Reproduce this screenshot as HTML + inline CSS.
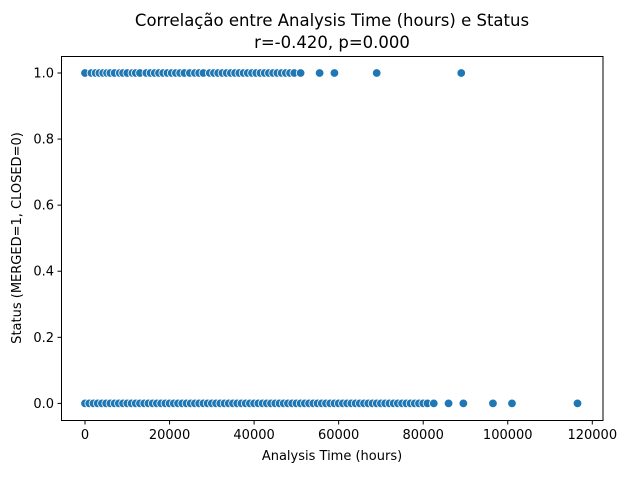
<!DOCTYPE html>
<html><head><meta charset="utf-8"><style>
body{margin:0;background:#fff}
svg text{font-family:"DejaVu Sans","Liberation Sans",sans-serif;fill:#000}
</style></head><body>
<svg id="c" width="630" height="475" xmlns="http://www.w3.org/2000/svg">
<text x="332" y="26" font-size="16.5" text-anchor="middle">Correlação entre Analysis Time (hours) e Status</text>
<text x="332" y="48" font-size="16.5" text-anchor="middle">r=-0.420, p=0.000</text>
<g id="ax"></g>
<g id="pts"></g>
<rect x="61.5" y="56.5" width="541.5" height="364" fill="none" stroke="#000" stroke-width="1"/>
<text x="332" y="460" font-size="13" text-anchor="middle">Analysis Time (hours)</text>
<text transform="translate(21,238) rotate(-90)" font-size="13" text-anchor="middle">Status (MERGED=1, CLOSED=0)</text>
</svg>
<script>
const xTicks=[0,20000,40000,60000,80000,100000,120000];
const yTicks=[0,0.2,0.4,0.6,0.8,1.0];
const mergedX=[0,1500,2500,3400,4300,5200,6000,7000,8200,9000,10000,11200,12000,13000,14500,15500,16500,17500,18500,19500,20500,21500,22500,23500,24800,26000,27000,28000,29500,30500,31500,32500,33500,34500,35500,36500,37500,38500,39500,40500,41500,42500,43500,44500,45500,46500,47500,48500,49500,51000,55500,59000,69000,89000];
const closedX=[0,1000,2000,3000,4000,5000,6000,7000,8000,9000,10000,11000,12000,13000,14000,15000,16000,17000,18000,19000,20000,21000,22000,23000,24000,25000,26000,27000,28000,29000,30000,31000,32000,33000,34000,35000,36000,37000,38000,39000,40000,41000,42000,43000,44000,45000,46000,47000,48000,49000,50000,51000,52000,53000,54000,55000,56000,57000,58000,59000,60000,61000,62000,63000,64000,65000,66000,67000,68000,69000,70000,71000,72000,73000,74000,75000,76000,77000,78000,79000,80000,81000,82500,86000,89500,96500,101000,116500];
const X=v=>85+v*(592.3-85)/120000;
const Y=v=>403.4-v*(403.4-73);
const NS="http://www.w3.org/2000/svg";
const ax=document.getElementById('ax'),pts=document.getElementById('pts');
function mk(t,a,p){const e=document.createElementNS(NS,t);for(const k in a)e.setAttribute(k,a[k]);p.appendChild(e);return e;}
xTicks.forEach(v=>{
 const l=mk('line',{x1:X(v),x2:X(v),y1:420.5,y2:424.5,stroke:'#000'},ax);
 
 
 const t=mk('text',{x:X(v),y:439,'font-size':13,'text-anchor':'middle'},ax);t.textContent=v;
 
 
});
yTicks.forEach(v=>{
 const l=mk('line',{x1:57.5,x2:61.5,y1:Y(v),y2:Y(v),stroke:'#000'},ax);
 
 
 const t=mk('text',{x:54,y:Y(v)+4.5,'font-size':13,'text-anchor':'end'},ax);t.textContent=v.toFixed(1);
 
 
});
function draw(arr,s,name){arr.forEach(v=>{
 const c=mk('circle',{cx:X(v),cy:Y(s),r:4.3,fill:'#1f77b4',stroke:'#fff','stroke-width':0.8},pts);
 
 
});}
draw(mergedX,1,'merged-point');
draw(closedX,0,'closed-point');
</script>
</body></html>
